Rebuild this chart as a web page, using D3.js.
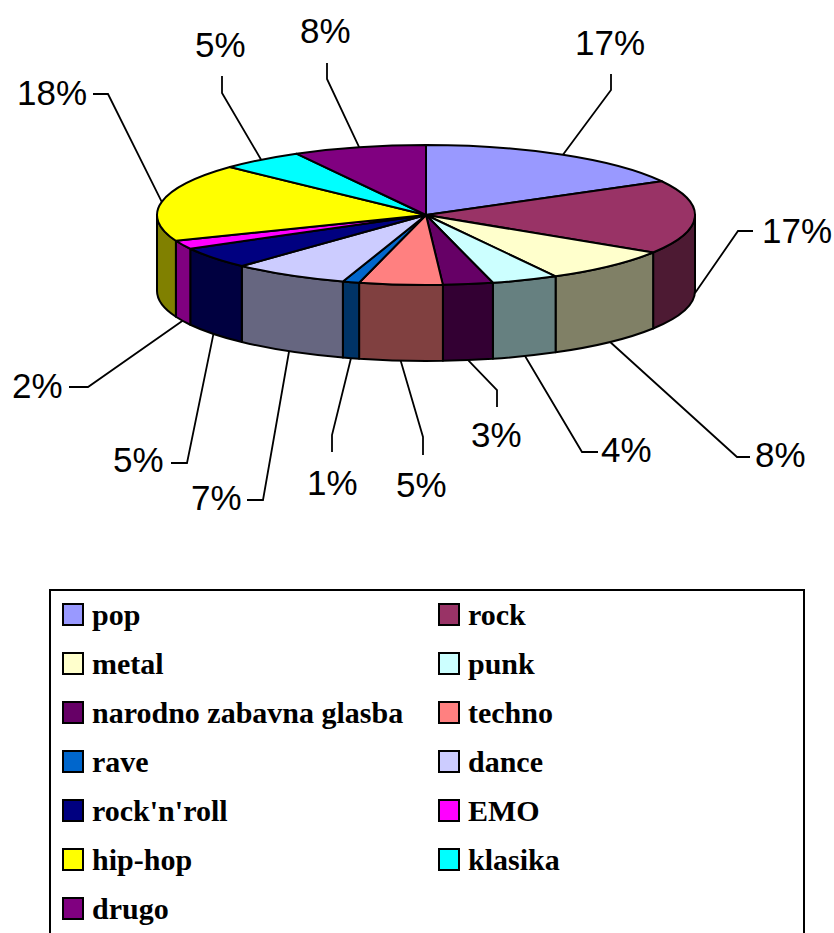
<!DOCTYPE html>
<html>
<head>
<meta charset="utf-8">
<script src="https://cdn.jsdelivr.net/npm/d3@7"></script>
<style>
  body { margin: 0; background: #fff; }
  svg { display: block; }
  .legend-text { font-family: "Liberation Serif", "Times New Roman", "DejaVu Serif", serif; font-weight: bold; }
  .pct { font-family: "Liberation Sans", Arial, sans-serif; }
</style>
</head>
<body>
<svg width="834" height="933"></svg>
<script>
// data
var categories = ["pop", "rock", "metal", "punk", "narodno zabavna glasba", "techno", "rave",
                  "dance", "rock'n'roll", "EMO", "hip-hop", "klasika", "drugo"];
var values = [17, 17, 8, 4, 3, 5, 1, 7, 5, 2, 18, 5, 8];
var colors = ["#9999FF", "#993366", "#FFFFCC", "#CCFFFF", "#660066", "#FF8080", "#0066CC",
              "#CCCCFF", "#000080", "#FF00FF", "#FFFF00", "#00FFFF", "#800080"];

// label placement (text start x, baseline y, leader end, leader elbow)
var labelPos = [
  [575, 55, 611, 74, 611, 90],
  [762, 243, 753, 231, 738, 231],
  [755, 467, 750, 457, 737, 457],
  [601, 462, 598, 452, 582, 452],
  [471, 447, 497, 407, 497, 390],
  [396, 497, 423, 455, 423, 437],
  [307, 495, 332, 452, 332, 435],
  [191, 510, 247, 500, 263, 500],
  [113, 472, 171, 463, 187, 463],
  [12, 398, 69, 387, 88, 387],
  [17, 105, 93, 94, 108, 94],
  [195, 57, 222, 76, 222, 93],
  [300, 43, 327, 63, 327, 79]
];

var svg = d3.select("svg");

var cx = 426, cy = 215, rx = 269, ry = 70, depth = 76;

var total = d3.sum(values);
var pie = d3.pie().sort(null).value(function(d) { return d.value; });
var arcs = pie(categories.map(function(c, i) { return {name: c, value: values[i], color: colors[i], i: i}; }));

function px(a) { return cx + rx * Math.sin(a); }
function py(a, h) { return cy - ry * Math.cos(a) + (h || 0); }

var g = svg.append("g");

// visible side walls (front half: angles between PI/2 and 3PI/2)
var sides = arcs.map(function(d) {
  var a0 = Math.max(d.startAngle, Math.PI / 2),
      a1 = Math.min(d.endAngle, 3 * Math.PI / 2);
  return {d: d, a0: a0, a1: a1};
}).filter(function(s) { return s.a1 > s.a0; });

g.selectAll("path.side")
  .data(sides)
  .enter().append("path")
    .attr("class", "side")
    .attr("d", function(s) {
      return "M" + px(s.a0) + "," + py(s.a0) +
        "A" + rx + "," + ry + " 0 0 1 " + px(s.a1) + "," + py(s.a1) +
        "L" + px(s.a1) + "," + py(s.a1, depth) +
        "A" + rx + "," + ry + " 0 0 0 " + px(s.a0) + "," + py(s.a0, depth) + "Z";
    })
    .attr("fill", function(s) {
      var c = d3.rgb(s.d.data.color);
      return d3.rgb(c.r * 0.5, c.g * 0.5, c.b * 0.5);
    })
    .attr("stroke", "#000")
    .attr("stroke-width", 2)
    .attr("stroke-linejoin", "round");

// top slices
g.selectAll("path.top")
  .data(arcs)
  .enter().append("path")
    .attr("class", "top")
    .attr("d", function(d) {
      var large = (d.endAngle - d.startAngle) > Math.PI ? 1 : 0;
      return "M" + cx + "," + cy +
        "L" + px(d.startAngle) + "," + py(d.startAngle) +
        "A" + rx + "," + ry + " 0 " + large + " 1 " + px(d.endAngle) + "," + py(d.endAngle) + "Z";
    })
    .attr("fill", function(d) { return d.data.color; })
    .attr("stroke", "#000")
    .attr("stroke-width", 2)
    .attr("stroke-linejoin", "round");

// leader lines + percentage labels
var labels = svg.append("g");
arcs.forEach(function(d, i) {
  var mid = (d.startAngle + d.endAngle) / 2;
  var h = Math.cos(mid) >= 0 ? 0 : depth; // front slices hook to the bottom rim
  var lp = labelPos[i];
  labels.append("polyline")
    .attr("points", [[px(mid), py(mid, h)], [lp[4], lp[5]], [lp[2], lp[3]]].join(" "))
    .attr("fill", "none")
    .attr("stroke", "#000")
    .attr("stroke-width", 1.8);
  labels.append("text")
    .attr("class", "pct")
    .attr("x", lp[0])
    .attr("y", lp[1])
    .attr("font-size", 35)
    .attr("fill", "#000")
    .text(Math.round(d.data.value / total * 100) + "%");
});

// legend
var legend = svg.append("g");
legend.append("rect")
  .attr("x", 50).attr("y", 590)
  .attr("width", 754).attr("height", 360)
  .attr("fill", "#fff")
  .attr("stroke", "#000")
  .attr("stroke-width", 2);

var items = legend.selectAll("g.item")
  .data(arcs.map(function(d) { return d.data; }))
  .enter().append("g")
    .attr("class", "item")
    .attr("transform", function(d, i) {
      return "translate(" + (i % 2 ? 438 : 62) + "," + (625 + Math.floor(i / 2) * 49) + ")";
    });

items.append("rect")
  .attr("x", 1).attr("y", -21)
  .attr("width", 20).attr("height", 21)
  .attr("fill", function(d) { return d.color; })
  .attr("stroke", "#000")
  .attr("stroke-width", 2);

items.append("text")
  .attr("class", "legend-text")
  .attr("x", 30)
  .attr("y", 0)
  .attr("font-size", 30)
  .text(function(d) { return d.name; });
</script>
</body>
</html>
